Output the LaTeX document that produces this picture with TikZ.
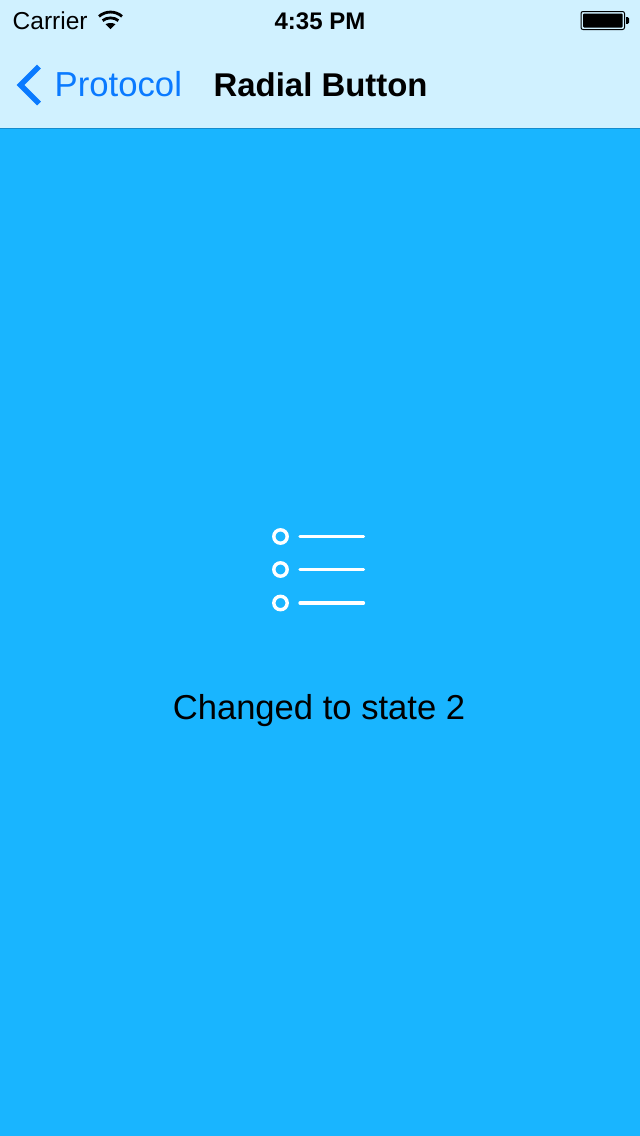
\documentclass[tikz,border=0pt]{standalone}
\usepackage{fontspec}
\setmainfont{Liberation Sans}
\definecolor{navbg}{RGB}{208,241,255}
\definecolor{mainbg}{RGB}{25,181,255}
\definecolor{navline}{RGB}{20,140,205}
\definecolor{iosblue}{RGB}{10,122,255}
\tikzset{
  lbl/.style={inner sep=0pt,anchor=base west,text=black},
  ring/.style={circle,draw=white,line width=3.4bp,minimum size=13.4bp,inner sep=0pt},
  bar/.style={draw=white,line width=3.3bp,line cap=round},
}
\begin{document}
\begin{tikzpicture}[x=1bp,y=-1bp]
\useasboundingbox (0,0) rectangle (640,1136);
\fill[mainbg] (0,0) rectangle (640,1136);
\fill[navbg] (0,0) rectangle (640,128);
\fill[navline] (0,128) rectangle (640,129);
% status bar
\node[lbl] (carrier) at (12.5,29) {\fontsize{24.5bp}{24.5bp}\selectfont Carrier};
\fill (110.5,29) -- (105.5,24.2) .. controls (108,22.6) and (113,22.6) .. (115.5,24.2) -- cycle;
\draw[line width=2.8bp] (102.6,20.6) .. controls (107,17) and (114,17) .. (118.4,20.6);
\draw[line width=2.8bp] (99,16.4) .. controls (105.5,10.6) and (115.5,10.6) .. (122,16.4);
\node[inner sep=0pt,anchor=base] (clock) at (320,29) {\fontsize{24bp}{24bp}\selectfont\bfseries 4:35 PM};
\draw[black,line width=1bp,rounded corners=2bp] (581,11.5) rectangle (624.5,29.5);
\fill[black,rounded corners=1bp] (583,13.5) rectangle (622.5,27.5);
\fill[black,rounded corners=1.5bp] (626,17) rectangle (629,24);
\fill[black] (626,17) rectangle (627.5,24);
% navigation bar
\draw[iosblue,line width=5.4bp,miter limit=10] (39,66.5) -- (20.5,85) -- (39,103.5);
\node[lbl,text=iosblue] (back) at (54.5,96) {\fontsize{34.7bp}{34.7bp}\selectfont Protocol};
\node[lbl] (title) at (213.5,96) {\fontsize{32.9bp}{32.9bp}\selectfont\bfseries Radial Button};
% icon
\node[ring] (r1) at (280.5,536.5) {};
\node[ring] (r2) at (280.5,569.5) {};
\node[ring] (r3) at (280.5,603) {};
\draw[bar] (300,536.5) -- (363.5,536.5);
\draw[bar] (300,569.5) -- (363.5,569.5);
\draw[bar] (300,603) -- (363.5,603);
% message
\node[inner sep=0pt,anchor=base] (msg) at (319,719) {\fontsize{34.6bp}{34.6bp}\selectfont Changed to state 2};
\end{tikzpicture}
\end{document}
